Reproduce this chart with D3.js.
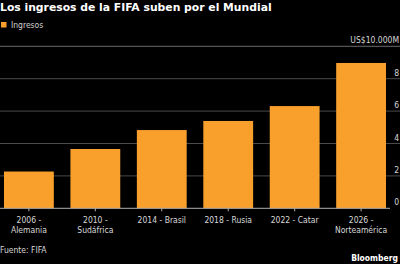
<!DOCTYPE html>
<html>
<head>
<meta charset="utf-8">
<script src="https://cdn.jsdelivr.net/npm/d3@7"></script>
<style>
body { margin:0; background:#000; }
svg { display:block; font-family:"DejaVu Sans Condensed", "DejaVu Sans", sans-serif; }
</style>
</head>
<body>
<div id="chart"></div>
<script>
// datos (miles de millones US$)
var torneos = ["2006 - Alemania","2010 - Sudáfrica","2014 - Brasil","2018 - Rusia","2022 - Catar","2026 - Norteamérica"];
var lineas = [["2006 -","Alemania"],["2010 -","Sudáfrica"],["2014 - Brasil"],["2018 - Rusia"],["2022 - Catar"],["2026 -","Norteamérica"]];
var ingresos = [2.27, 3.66, 4.83, 5.39, 6.31, 8.97];
var yTicks = [0,2,4,6,8,10];

var W = 400, H = 264;
var naranja = "#f8a02b";

var svg = d3.select("#chart").append("svg")
     .attr("width", W)
     .attr("height", H);

svg.append("rect").attr("width", W).attr("height", H).attr("fill", "#000");

var x = d3.scaleBand().domain(torneos).range([0, 390]).paddingInner(0.25).paddingOuter(0.06);
var y = d3.scaleLinear().domain([0,10]).range([208.3, 46.3]);

// titulo
svg.append("text")
  .attr("x", 0).attr("y", 11)
  .attr("fill", "#fff")
  .style("font-family", "'DejaVu Sans', sans-serif")
  .style("font-weight", "bold")
  .style("font-size", "10.8px")
  .text("Los ingresos de la FIFA suben por el Mundial");

// leyenda
svg.append("rect").attr("x", 1).attr("y", 22).attr("width", 5.5).attr("height", 5.5).attr("fill", naranja);
svg.append("text")
  .attr("x", 11).attr("y", 28)
  .attr("fill", "#d0d0d0")
  .style("font-size", "8.5px")
  .text("Ingresos");

// lineas de cuadricula
svg.append("g").selectAll("line")
  .data(yTicks.filter(function(d){ return d > 0; }))
  .enter().append("line")
  .attr("x1", 0).attr("x2", 400)
  .attr("y1", function(d){ return y(d); })
  .attr("y2", function(d){ return y(d); })
  .attr("stroke", function(d){ return d == 10 ? "#6a6a6a" : "#4a4a4a"; })
  .attr("stroke-width", 1);

// etiquetas eje y
svg.append("g").selectAll("text")
  .data(yTicks)
  .enter().append("text")
  .attr("x", 399)
  .attr("y", function(d){ return y(d) - 3; })
  .attr("text-anchor", "end")
  .attr("fill", "#d8d8d8")
  .style("font-size", "8.5px")
  .text(function(d){ return d == 10 ? "US$10.000M" : d; });

// barras
svg.append("g").selectAll("rect")
  .data(ingresos)
  .enter().append("rect")
  .attr("x", function(d,i){ return x(torneos[i]); })
  .attr("width", x.bandwidth())
  .attr("y", function(d){ return y(d); })
  .attr("height", function(d){ return y(0) - y(d); })
  .attr("fill", naranja);

// linea base y eje x
svg.append("line")
  .attr("x1", 0).attr("x2", 390)
  .attr("y1", y(0)).attr("y2", y(0))
  .attr("stroke", "#b0b0b0").attr("stroke-width", 1);

var xg = svg.append("g").selectAll("g")
  .data(torneos)
  .enter().append("g")
  .attr("transform", function(d){ return "translate(" + (x(d) + x.bandwidth()/2) + ",0)"; });

xg.append("line")
  .attr("y1", y(0)).attr("y2", y(0) + 3)
  .attr("stroke", "#b0b0b0");

xg.append("text")
  .attr("text-anchor", "middle")
  .attr("fill", "#d8d8d8")
  .style("font-size", "8.5px")
  .selectAll("tspan")
  .data(function(d,i){ return lineas[i]; })
  .enter().append("tspan")
  .attr("x", 0)
  .attr("y", function(d,j){ return 223 + j*10; })
  .text(function(d){ return d; });

// fuente
svg.append("text")
  .attr("x", 0).attr("y", 252.5)
  .attr("fill", "#d8d8d8")
  .style("font-size", "8.5px")
  .text("Fuente: FIFA");

svg.append("text")
  .attr("x", 398).attr("y", 261)
  .attr("text-anchor", "end")
  .attr("fill", "#fff")
  .style("font-weight", "bold")
  .style("font-size", "8.5px")
  .text("Bloomberg");
</script>
</body>
</html>
